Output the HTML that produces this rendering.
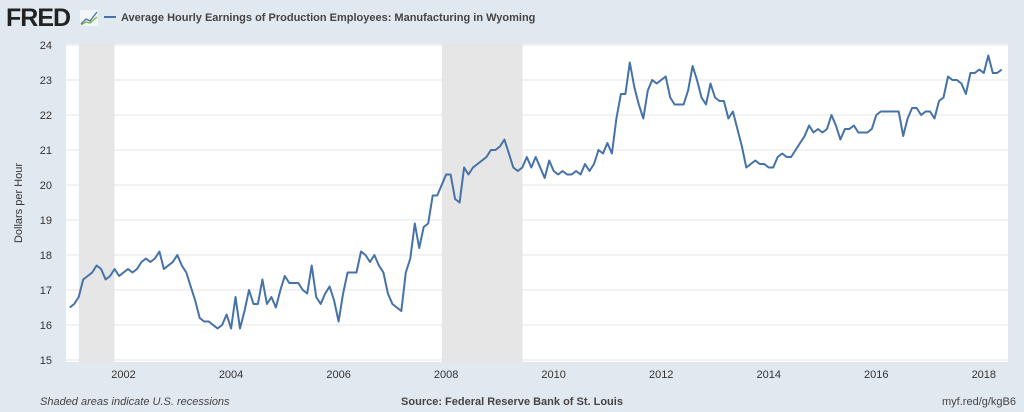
<!DOCTYPE html>
<html><head><meta charset="utf-8"><style>
body{margin:0;width:1024px;height:412px;background:#e1e9f0;font-family:"Liberation Sans",sans-serif;overflow:hidden}
svg{display:block}
</style></head><body>
<svg id="chart" width="1024" height="412">
<rect width="1024" height="412" fill="#e1e9f0"/>
<text x="6" y="26" font-size="25" font-weight="bold" fill="#222" letter-spacing="-1">FRED</text>
<g><rect x="80" y="10" width="18" height="16" fill="#fff" opacity="0.6"/><polyline points="81,24 86,19 90,21 97,12" fill="none" stroke="#4572a7" stroke-width="1.3"/><polyline points="81,25 86,22 90,23 97,17" fill="none" stroke="#7cb342" stroke-width="1.3"/></g>
<line x1="104" y1="17" x2="116" y2="17" stroke="#4572a7" stroke-width="2"/>
<text x="121" y="21" font-size="11" font-weight="bold" fill="#444">Average Hourly Earnings of Production Employees: Manufacturing in Wyoming</text>
<rect x="66" y="44" width="942" height="318" fill="#fff"/>
<g id="rec"></g><g id="grid"></g><g id="ticks"></g>
<text transform="translate(22,203) rotate(-90)" text-anchor="middle" font-size="11" fill="#333">Dollars per Hour</text>
<path id="line" fill="none" stroke="#4572a7" stroke-width="2" stroke-linejoin="round"/>
<text x="40" y="405" font-size="11" font-style="italic" fill="#444">Shaded areas indicate U.S. recessions</text>
<text x="512" y="405" text-anchor="middle" font-size="11" font-weight="bold" fill="#444">Source: Federal Reserve Bank of St. Louis</text>
<text x="1016" y="405" text-anchor="end" font-size="11" fill="#444">myf.red/g/kgB6</text>
</svg>
<script>
const startYear = 2001;
const values = [16.5,16.6,16.8,17.3,17.4,17.5,17.7,17.6,17.3,17.4,
17.6,17.4,17.5,17.6,17.5,17.6,17.8,17.9,17.8,17.9,
18.1,17.6,17.7,17.8,18.0,17.7,17.5,17.1,16.7,16.2,
16.1,16.1,16.0,15.9,16.0,16.3,15.9,16.8,15.9,16.4,
17.0,16.6,16.6,17.3,16.6,16.8,16.5,17.0,17.4,17.2,
17.2,17.2,17.0,16.9,17.7,16.8,16.6,16.9,17.1,16.7,
16.1,16.9,17.5,17.5,17.5,18.1,18.0,17.8,18.0,17.7,17.5,
16.9,16.6,16.5,16.4,17.5,17.9,18.9,18.2,18.8,18.9,
19.7,19.7,20.0,20.3,20.3,19.6,19.5,20.5,20.3,20.5,
20.6,20.7,20.8,21.0,21.0,21.1,21.3,20.9,20.5,20.4,
20.5,20.8,20.5,20.8,20.5,20.2,20.7,20.4,20.3,20.4,
20.3,20.3,20.4,20.3,20.6,20.4,20.6,21.0,20.9,21.2,
20.9,21.9,22.6,22.6,23.5,22.8,22.3,21.9,22.7,23.0,
22.9,23.0,23.1,22.5,22.3,22.3,22.3,22.7,23.4,23.0,
22.5,22.3,22.9,22.5,22.4,22.4,21.9,22.1,21.6,21.1,
20.5,20.6,20.7,20.6,20.6,20.5,20.5,20.8,20.9,20.8,
20.8,21.0,21.2,21.4,21.7,21.5,21.6,21.5,21.6,22.0,
21.7,21.3,21.6,21.6,21.7,21.5,21.5,21.5,21.6,22.0,
22.1,22.1,22.1,22.1,22.1,21.4,21.9,22.2,22.2,22.0,22.1,
22.1,21.9,22.4,22.5,23.1,23.0,23.0,22.9,22.6,23.2,
23.2,23.3,23.2,23.7,23.2,23.2,23.3];
const recessions = [[2001.17,2001.83],[2007.92,2009.42]];
const yTicks = [15,16,17,18,19,20,21,22,23,24];
const xTicks = [2002,2004,2006,2008,2010,2012,2014,2016,2018];
const X0=66,X1=1008,Y0=360,Y1=45, D0=2000.93, D1=2018.45, V0=15, V1=24;
const xs = d => X0 + (d-D0)/(D1-D0)*(X1-X0);
const ys = v => Y0 - (v-V0)/(V1-V0)*(Y0-Y1);
const NS="http://www.w3.org/2000/svg";
const mk=(t,a,p)=>{const e=document.createElementNS(NS,t);for(const k in a)e.setAttribute(k,a[k]);p.appendChild(e);return e;};
const rec=document.getElementById('rec'),grid=document.getElementById('grid'),tk=document.getElementById('ticks');
recessions.forEach(r=>{const e=mk('rect',{x:xs(r[0]),y:44,width:xs(r[1])-xs(r[0]),height:318,fill:'#e6e6e6'},rec);

});
yTicks.forEach(v=>{const g=mk('line',{x1:X0,x2:X1,y1:ys(v),y2:ys(v),stroke:'#e4e4e4','stroke-width':1},grid);


const t=mk('text',{x:52,y:ys(v)+4,'text-anchor':'end','font-size':11,fill:'#333'},tk);t.textContent=v;

});
xTicks.forEach(d=>{const t=mk('text',{x:xs(d),y:378,'text-anchor':'middle','font-size':11,fill:'#333'},tk);t.textContent=d;

});
document.getElementById('line').setAttribute('d',values.map((v,i)=>(i?'L':'M')+xs(startYear+i/12).toFixed(1)+','+ys(v).toFixed(1)).join(''));
</script>
</body></html>
